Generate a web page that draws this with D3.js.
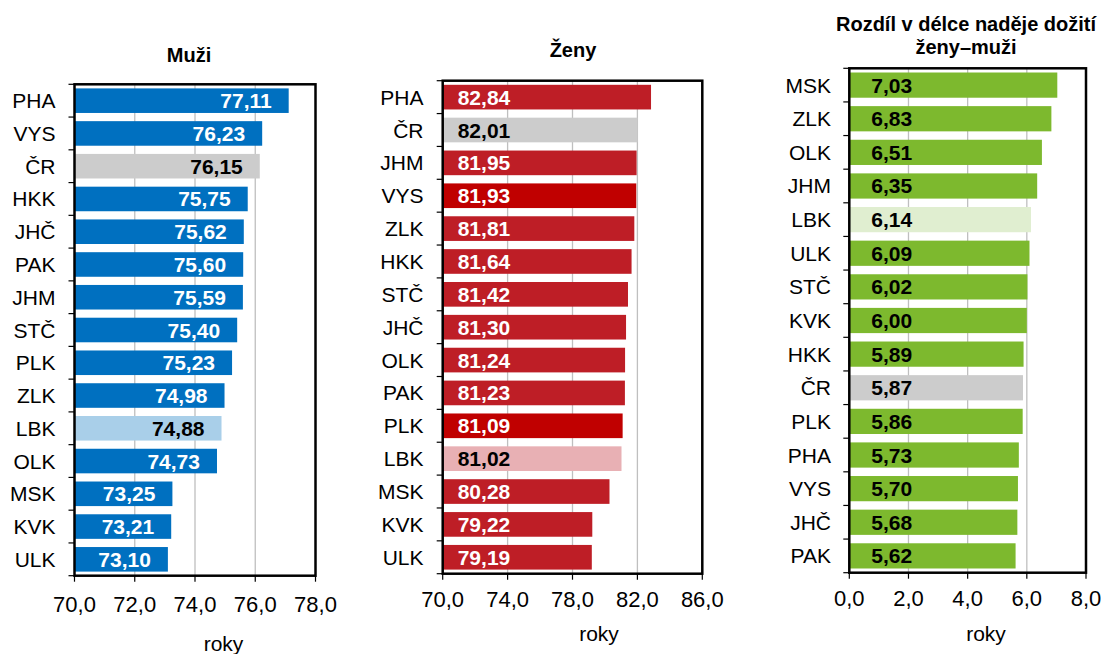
<!DOCTYPE html>
<html><head><meta charset="utf-8">
<script src="https://cdn.jsdelivr.net/npm/d3@7"></script>
<style>
html,body{margin:0;padding:0;background:#fff;}
svg{display:block;font-family:"Liberation Sans",Arial,sans-serif;}
</style></head>
<body>
<svg id="c" width="1111" height="654"></svg>
<script>
// ---- data ----
const menCats = ["PHA","VYS","ČR","HKK","JHČ","PAK","JHM","STČ","PLK","ZLK","LBK","OLK","MSK","KVK","ULK"];
const menVals = [77.11,76.23,76.15,75.75,75.62,75.60,75.59,75.40,75.23,74.98,74.88,74.73,73.25,73.21,73.10];
const womenCats = ["PHA","ČR","JHM","VYS","ZLK","HKK","STČ","JHČ","OLK","PAK","PLK","LBK","MSK","KVK","ULK"];
const womenVals = [82.84,82.01,81.95,81.93,81.81,81.64,81.42,81.30,81.24,81.23,81.09,81.02,80.28,79.22,79.19];
const diffCats = ["MSK","ZLK","OLK","JHM","LBK","ULK","STČ","KVK","HKK","ČR","PLK","PHA","VYS","JHČ","PAK"];
const diffVals = [7.03,6.83,6.51,6.35,6.14,6.09,6.02,6.00,5.89,5.87,5.86,5.73,5.70,5.68,5.62];
const menTicks = [70,72,74,76,78];
const womenTicks = [70,74,78,82,86];
const diffTicks = [0,2,4,6,8];
const titles = [["Muži"],["Ženy"],["Rozdíl v délce naděje dožití","ženy–muži"]];
const axisTitle = "roky";

const loc = d3.formatLocale({decimal:",",thousands:" ",grouping:[3],currency:["",""]});
const f2 = loc.format(".2f"), f1 = loc.format(".1f");

const svg = d3.select("#c");

const panels = [
  {cats:menCats, vals:menVals, ticks:menTicks, title:titles[0],
   x0:74.5, x1:315.5, y0:84.3, y1:575.7, catX:55.5,
   titleX:189, titleY:[62.3], tickY:612, rokyX:223.5, rokyY:651, 
   color:c=> c==="ČR" ? "#CCCCCC" : c==="LBK" ? "#A9CFE9" : "#0070C0",
   txt:c=> (c==="ČR"||c==="LBK") ? "#000" : "#fff",
   labelMode:"end", labelOff:17},
  {cats:womenCats, vals:womenVals, ticks:womenTicks, title:titles[1],
   x0:442.7, x1:702.3, y0:80.7, y1:573.7, catX:423.5,
   titleX:573, titleY:[56.7], tickY:607, rokyX:599, rokyY:641,
   color:c=> c==="ČR" ? "#CCCCCC" : c==="LBK" ? "#E8B0B4" : (c==="VYS"||c==="PLK") ? "#C00000" : "#BE1E26",
   txt:c=> (c==="ČR"||c==="LBK") ? "#000" : "#fff",
   labelMode:"start", labelOff:15},
  {cats:diffCats, vals:diffVals, ticks:diffTicks, title:titles[2],
   x0:849.3, x1:1086, y0:68.3, y1:572.7, catX:831,
   titleX:966, titleY:[31,54], tickY:605.5, rokyX:986, rokyY:641,
   color:c=> c==="ČR" ? "#CCCCCC" : c==="LBK" ? "#E0EED0" : "#7DB92E",
   txt:c=> "#000",
   labelMode:"start", labelOff:22}
];

panels.forEach(p => {
  const g = svg.append("g");
  const x = d3.scaleLinear().domain([p.ticks[0], p.ticks[p.ticks.length-1]]).range([p.x0, p.x1]);
  const y = d3.scaleBand().domain(p.cats).range([p.y0, p.y1]).paddingInner(0.25).paddingOuter(0.125);
  const yb = d3.scaleBand().domain(p.cats).range([p.y0, p.y1]);

  // gridlines
  g.append("g").selectAll("line").data(p.ticks.slice(1,-1)).join("line")
    .attr("x1",d=>x(d)).attr("x2",d=>x(d)).attr("y1",p.y0).attr("y2",p.y1)
    .attr("stroke","#BFBFBF").attr("stroke-width",1.3);

  // bars
  g.append("g").selectAll("rect").data(p.cats).join("rect")
    .attr("x",x.range()[0]).attr("y",c=>y(c))
    .attr("width",(c,i)=>x(p.vals[i])-x.range()[0]).attr("height",y.bandwidth())
    .attr("fill",c=>p.color(c));

  // value labels
  g.append("g").selectAll("text").data(p.cats).join("text")
    .attr("x",(c,i)=> p.labelMode==="end" ? x(p.vals[i])-p.labelOff : p.x0+p.labelOff)
    .attr("y",c=>y(c)+y.bandwidth()/2+7.5)
    .attr("text-anchor",p.labelMode==="end"?"end":"start")
    .attr("font-size",21).attr("font-weight","bold")
    .attr("fill",c=>p.txt(c))
    .text((c,i)=>f2(p.vals[i]));

  // frame
  g.append("rect").attr("x",p.x0).attr("y",p.y0).attr("width",p.x1-p.x0).attr("height",p.y1-p.y0)
    .attr("fill","none").attr("stroke","#000").attr("stroke-width",2.5);

  // y ticks (category boundaries)
  const bounds = p.cats.map(c=>yb(c)).concat([p.y1]);
  g.append("g").selectAll("line").data(bounds).join("line")
    .attr("x1",p.x0-6).attr("x2",p.x0).attr("y1",d=>d).attr("y2",d=>d)
    .attr("stroke","#000").attr("stroke-width",1.2);
  // category labels
  g.append("g").selectAll("text").data(p.cats).join("text")
    .attr("x",p.catX).attr("y",c=>yb(c)+yb.bandwidth()/2+7.5)
    .attr("text-anchor","end").attr("font-size",21).attr("fill","#000")
    .text(c=>c);

  // x axis ticks
  g.append("g").selectAll("line").data(p.ticks).join("line")
    .attr("x1",d=>x(d)).attr("x2",d=>x(d)).attr("y1",p.y1).attr("y2",p.y1+6)
    .attr("stroke","#000").attr("stroke-width",1.2);
  g.append("g").selectAll("text").data(p.ticks).join("text")
    .attr("x",d=>x(d)).attr("y",p.tickY).attr("text-anchor","middle")
    .attr("font-size",22).attr("fill","#000").text(d=>f1(d));

  // axis title
  g.append("text").attr("x",p.rokyX).attr("y",p.rokyY).attr("text-anchor","middle")
    .attr("font-size",21).attr("fill","#000").text(axisTitle);

  // panel title
  g.append("g").selectAll("text").data(p.title).join("text")
    .attr("x",p.titleX).attr("y",(d,i)=>p.titleY[i]).attr("text-anchor","middle")
    .attr("font-size",20).attr("font-weight","bold").attr("fill","#000").text(d=>d);
});
</script>
</body></html>
